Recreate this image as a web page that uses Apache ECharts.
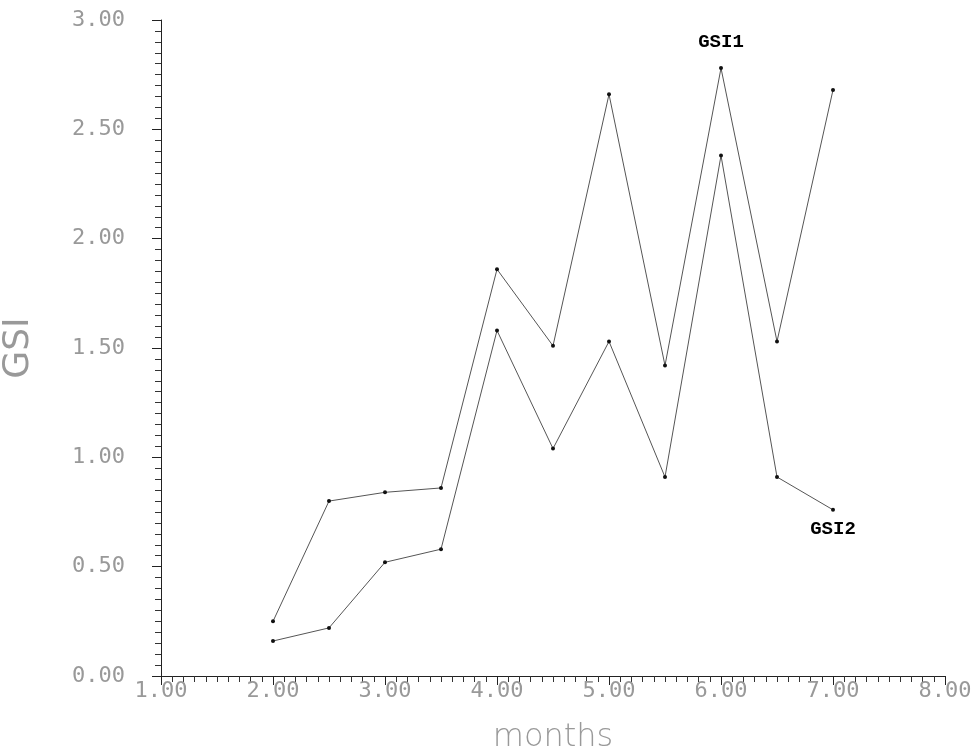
<!DOCTYPE html>
<html>
<head>
<meta charset="utf-8">
<script src="https://cdn.jsdelivr.net/npm/echarts@6/dist/echarts.min.js"></script>
<style>
  html, body { margin: 0; padding: 0; background: #fff; }
  #chart { width: 979px; height: 754px; }
</style>
</head>
<body>
<div id="chart"></div>
<script>
// months on the x axis
const months = [2.0, 2.5, 3.0, 3.5, 4.0, 4.5, 5.0, 5.5, 6.0, 6.5, 7.0]
const gsi1 = [0.25, 0.80, 0.84, 0.86, 1.86, 1.51, 2.66, 1.42, 2.78, 1.53, 2.68]
const gsi2 = [0.16, 0.22, 0.52, 0.58, 1.58, 1.04, 1.53, 0.91, 2.38, 0.91, 0.76]

const myChart = echarts.init(document.getElementById('chart'))

// 把标签挂到某一个点上
function makeData(vals, labelIdx, labelText, pos, dist) {
  return vals.map(function (v, i) {
    const item = { value: [months[i], v] }
    if (i === labelIdx) {
      item.label = {
        show: true,
        formatter: labelText,
        position: pos,
        distance: dist,
        color: '#000',
        fontFamily: 'Liberation Mono',
        fontWeight: 'bold',
        fontSize: 19
      }
    }
    return item
  })
}

const lineStyle = { color: '#555', width: 1 }

const option = {
  animation: false,
  grid: { left: 161, right: 34, top: 20, bottom: 78, outerBoundsMode: 'none' },
  xAxis: {
    type: 'value',
    min: 1, max: 8, interval: 1,
    name: 'months',
    nameLocation: 'middle',
    nameGap: 46,
    nameTextStyle: { fontSize: 32, color: '#999', fontFamily: 'DejaVu Sans', fontWeight: 200 },
    axisLine: { show: true, lineStyle: { color: '#222', width: 1 } },
    axisTick: { show: true, length: 9, lineStyle: { color: '#222' } },
    minorTick: { show: true, splitNumber: 10, length: 6, lineStyle: { color: '#333' } },
    splitLine: { show: false },
    axisLabel: {
      margin: 4,
      fontSize: 22,
      fontFamily: 'DejaVu Sans Mono',
      color: function (v) { return v === 8 ? '#111' : '#999' },
      formatter: function (v) { return v.toFixed(2) }
    }
  },
  yAxis: {
    type: 'value',
    min: 0, max: 3, interval: 0.5,
    name: 'GSI',
    nameLocation: 'middle',
    nameGap: 124,
    nameRotate: 90,
    nameTextStyle: { fontSize: 36, color: '#999', fontFamily: 'DejaVu Sans' },
    axisLine: { show: true, lineStyle: { color: '#222', width: 1 } },
    axisTick: { show: true, length: 9, lineStyle: { color: '#222' } },
    minorTick: { show: true, splitNumber: 10, length: 6, lineStyle: { color: '#333' } },
    splitLine: { show: false },
    axisLabel: {
      margin: 36,
      fontSize: 22,
      fontFamily: 'DejaVu Sans Mono',
      color: '#999',
      formatter: function (v) { return v.toFixed(2) }
    }
  },
  series: [
    {
      name: 'GSI1',
      type: 'line',
      data: makeData(gsi1, 8, 'GSI1', 'top', 14),
      symbol: 'circle',
      symbolSize: 4,
      itemStyle: { color: '#111' },
      lineStyle: lineStyle
    },
    {
      name: 'GSI2',
      type: 'line',
      data: makeData(gsi2, 10, 'GSI2', 'bottom', 8),
      symbol: 'circle',
      symbolSize: 4,
      itemStyle: { color: '#111' },
      lineStyle: lineStyle
    }
  ]
}

option && myChart.setOption(option)
</script>
</body>
</html>
